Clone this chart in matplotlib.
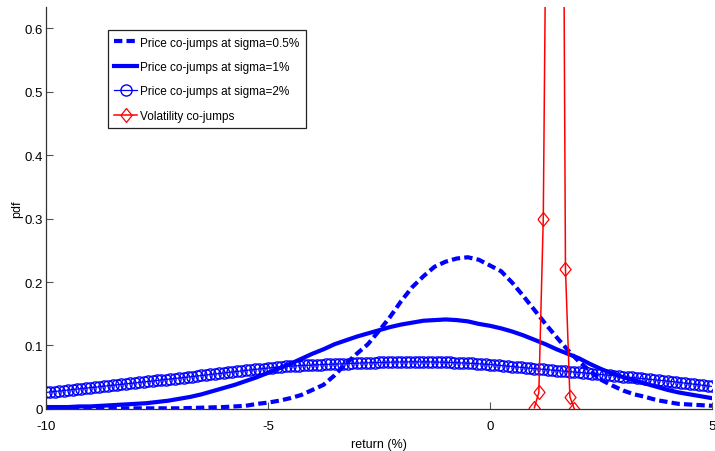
import numpy as np
import matplotlib
matplotlib.use("Agg")
import matplotlib.pyplot as plt

plt.rcParams["font.family"] = ["Liberation Sans", "DejaVu Sans"]

# pdf of price co-jumps, sigma = 0.5% and 1%, on a 0.25 grid
x_coarse = np.arange(-10, 5.001, 0.25)
pdf_s05 = [
    0.001, 0.001, 0.001, 0.001, 0.001, 0.001, 0.001, 0.001, 0.001, 0.001,
    0.001, 0.001, 0.001, 0.0015, 0.002, 0.0025, 0.003, 0.004, 0.005, 0.008,
    0.010, 0.013, 0.017, 0.022, 0.030, 0.038, 0.053, 0.071, 0.087, 0.102,
    0.123, 0.145, 0.170, 0.192, 0.209, 0.224, 0.232, 0.237, 0.239, 0.235,
    0.226, 0.217, 0.199, 0.178, 0.156, 0.134, 0.113, 0.093, 0.075, 0.060,
    0.046, 0.037, 0.029, 0.023, 0.019, 0.014, 0.011, 0.008, 0.007, 0.006,
    0.005,
]
pdf_s1 = [
    0.003, 0.003, 0.003, 0.004, 0.004, 0.005, 0.006, 0.007, 0.008, 0.009,
    0.011, 0.013, 0.016, 0.019, 0.023, 0.028, 0.033, 0.038, 0.044, 0.050,
    0.057, 0.064, 0.071, 0.079, 0.087, 0.094, 0.102, 0.108, 0.114, 0.119,
    0.124, 0.129, 0.133, 0.136, 0.139, 0.140, 0.141, 0.140, 0.138, 0.134,
    0.131, 0.127, 0.122, 0.116, 0.109, 0.102, 0.094, 0.087, 0.080, 0.071,
    0.063, 0.056, 0.050, 0.045, 0.040, 0.035, 0.030, 0.026, 0.023, 0.020,
    0.017,
]

# pdf of price co-jumps, sigma = 2%, on a 0.1 grid
x_fine = np.arange(-10, 5.001, 0.1)
pdf_s2 = [
    0.0260, 0.0268, 0.0275, 0.0283, 0.0290, 0.0298, 0.0305, 0.0313, 0.0320, 0.0328,
    0.0335, 0.0343, 0.0350, 0.0358, 0.0365, 0.0373, 0.0380, 0.0388, 0.0395, 0.0403,
    0.0410, 0.0418, 0.0425, 0.0433, 0.0441, 0.0449, 0.0456, 0.0464, 0.0472, 0.0479,
    0.0487, 0.0495, 0.0503, 0.0511, 0.0519, 0.0528, 0.0536, 0.0544, 0.0552, 0.0560,
    0.0568, 0.0576, 0.0583, 0.0591, 0.0599, 0.0607, 0.0614, 0.0622, 0.0630, 0.0637,
    0.0645, 0.0652, 0.0658, 0.0664, 0.0669, 0.0674, 0.0678, 0.0682, 0.0686, 0.0689,
    0.0692, 0.0695, 0.0698, 0.0701, 0.0704, 0.0707, 0.0710, 0.0713, 0.0716, 0.0719,
    0.0722, 0.0724, 0.0726, 0.0728, 0.0730, 0.0732, 0.0734, 0.0736, 0.0737, 0.0739,
    0.0740, 0.0741, 0.0741, 0.0742, 0.0742, 0.0742, 0.0741, 0.0740, 0.0738, 0.0737,
    0.0735, 0.0733, 0.0730, 0.0727, 0.0724, 0.0721, 0.0717, 0.0713, 0.0709, 0.0705,
    0.0700, 0.0694, 0.0688, 0.0681, 0.0675, 0.0668, 0.0662, 0.0655, 0.0648, 0.0642,
    0.0635, 0.0629, 0.0623, 0.0617, 0.0611, 0.0605, 0.0599, 0.0593, 0.0587, 0.0581,
    0.0575, 0.0569, 0.0562, 0.0556, 0.0549, 0.0543, 0.0536, 0.0530, 0.0523, 0.0517,
    0.0510, 0.0503, 0.0496, 0.0489, 0.0482, 0.0475, 0.0468, 0.0461, 0.0454, 0.0447,
    0.0440, 0.0432, 0.0424, 0.0415, 0.0407, 0.0398, 0.0390, 0.0381, 0.0372, 0.0364,
    0.0355,
]

# volatility co-jumps: very narrow density, peak far above the y-limit
x_vol = [1.0, 1.1, 1.2, 1.3, 1.4, 1.5, 1.6, 1.7, 1.8, 1.9]
pdf_vol = [0.002, 0.026, 0.30, 1.1, 2.0, 2.2, 1.6, 0.22, 0.019, 0.0]

labels = [
    "Price co-jumps at sigma=0.5%",
    "Price co-jumps at sigma=1%",
    "Price co-jumps at sigma=2%",
    "Volatility co-jumps",
]

diamond = [(-0.4, 0), (0, 0.5), (0.4, 0), (0, -0.5), (-0.4, 0)]

fig = plt.figure(figsize=(7.15, 4.52), dpi=100)
ax = fig.add_axes([0.0643, 0.093, 0.9315, 0.889])

ax.plot(x_coarse, pdf_s05, color="blue", lw=3, dashes=(2, 1), label=labels[0])
ax.plot(x_coarse, pdf_s1, color="blue", lw=3, label=labels[1])
ax.plot(x_fine, pdf_s2, color="blue", lw=0.9, marker="o", ms=8,
        mfc="none", mec="blue", mew=1.0, label=labels[2])
ax.plot(x_vol, pdf_vol, color="red", lw=1.1, marker=diamond, ms=10,
        mfc="none", mec="red", mew=0.9, label=labels[3])

ax.set_xlim(-10, 5)
ax.set_ylim(0, 0.633)
ax.set_xticks([-10, -5, 0, 5])
ax.set_xticklabels(["-10", "-5", "0", "5"])
ax.set_yticks([0, 0.1, 0.2, 0.3, 0.4, 0.5, 0.6])
ax.set_yticklabels(["0", "0.1", "0.2", "0.3", "0.4", "0.5", "0.6"])

for side in ["top", "right"]:
    ax.spines[side].set_visible(False)
for side in ["left", "bottom"]:
    ax.spines[side].set_color("#333333")
    ax.spines[side].set_linewidth(0.9)

ax.tick_params(direction="in", length=5, width=0.8, color="#555555",
               labelsize=9.5, labelcolor="black")
ax.tick_params(axis="x", pad=8)
ax.tick_params(axis="y", pad=2)

ax.set_xlabel("return (%)", fontsize=9, labelpad=4)
ax.set_ylabel("pdf", fontsize=9, labelpad=1)

leg = ax.legend(loc="upper left", bbox_to_anchor=(0.093, 0.943), borderaxespad=0,
                fontsize=8.5, handlelength=1.9, handletextpad=0.25,
                labelspacing=1.05, borderpad=0.55, fancybox=False, framealpha=1)
leg.get_frame().set_edgecolor("#222222")
leg.get_frame().set_linewidth(0.9)

fig.savefig("out.png", dpi=100, facecolor="white")
